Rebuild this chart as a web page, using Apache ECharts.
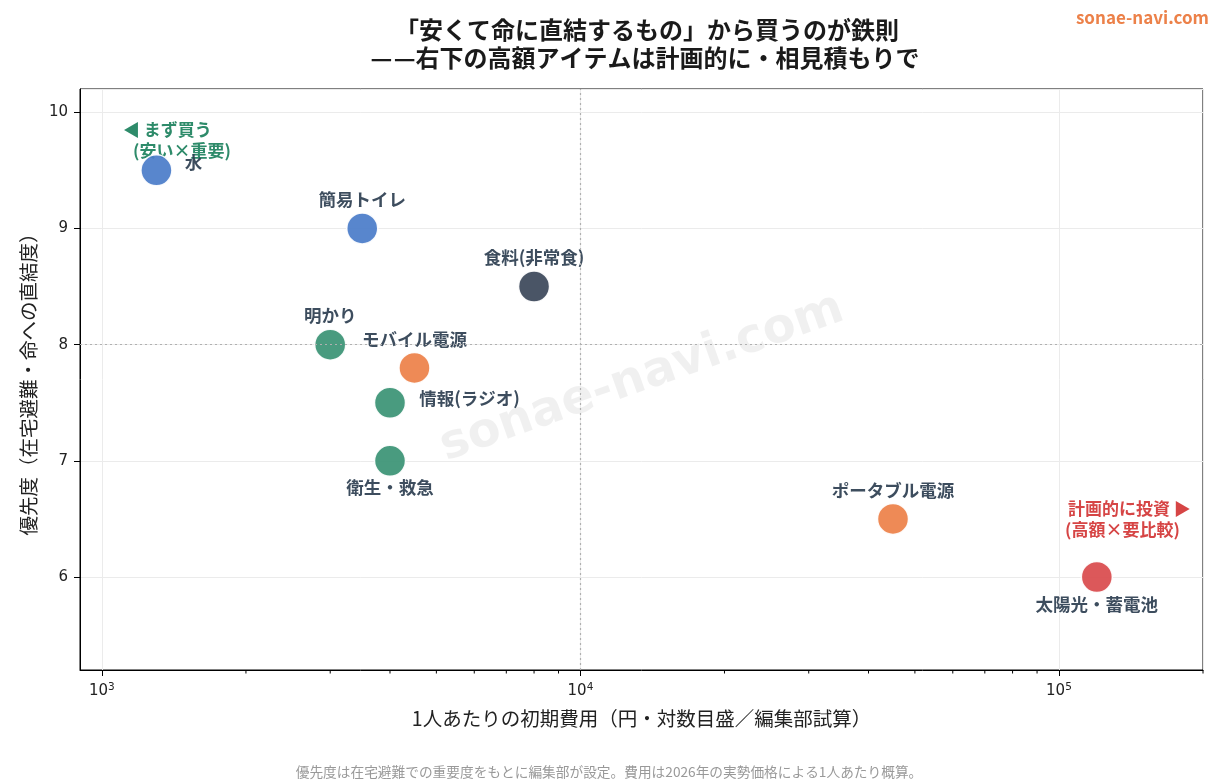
<!DOCTYPE html>
<html>
<head>
<meta charset="utf-8">
<script src="https://cdn.jsdelivr.net/npm/echarts@6/dist/echarts.min.js"></script>
<style>
  html, body { margin: 0; padding: 0; background: #fff; }
  #main { width: 1222px; height: 780px; }
</style>
</head>
<body>
<div id="main"></div>
<script>
  // data
  var items = ['水', '簡易トイレ', '食料(非常食)', '明かり', 'モバイル電源', '情報(ラジオ)', '衛生・救急', 'ポータブル電源', '太陽光・蓄電池'];
  var costs = [1300, 3500, 8000, 3000, 4500, 4000, 4000, 45000, 120000];
  var priority = [9.5, 9.0, 8.5, 8.0, 7.8, 7.5, 7.0, 6.5, 6.0];
  var groups = ['水', '水', '食', '備', '電', '備', '備', '電', '大'];
  var refCost = 10000;
  var refPriority = 8;

  var FONT = '"DejaVu Sans", "Noto Sans CJK JP", sans-serif';
  var JP = '"Noto Sans CJK JP", sans-serif';
  var groupColor = {
    '水': '#4a7cc9',
    '食': '#3b4759',
    '備': '#3a9274',
    '電': '#ed8048',
    '大': '#d94a4c'
  };
  // label placement per item
  var labelStyle = {
    '水': { position: 'right', distance: 12, offset: [0, -8] },
    '簡易トイレ': { position: 'top', distance: 4 },
    '食料(非常食)': { position: 'top', distance: 4 },
    '明かり': { position: 'top', distance: 4 },
    'モバイル電源': { position: 'top', distance: 4 },
    '情報(ラジオ)': { position: 'right', distance: 13, offset: [0, -4] },
    '衛生・救急': { position: 'bottom', distance: 2 },
    'ポータブル電源': { position: 'top', distance: 4 },
    '太陽光・蓄電池': { position: 'bottom', distance: 2 }
  };

  var points = items.map(function (n, i) {
    var ls = labelStyle[n];
    return {
      name: n,
      value: [costs[i], priority[i]],
      itemStyle: { color: groupColor[groups[i]] },
      label: { position: ls.position, distance: ls.distance, offset: ls.offset || [0, 0] }
    };
  });

  var chart = echarts.init(document.getElementById('main'));
  var option = {
    backgroundColor: '#fff',
    textStyle: { fontFamily: FONT },
    grid: {
      left: 80, right: 19, top: 89, bottom: 110,
      show: true, borderColor: '#000', borderWidth: 1
    },
    xAxis: {
      type: 'log',
      logBase: 10,
      min: 900,
      max: 200000,
      name: '1人あたりの初期費用（円・対数目盛／編集部試算）',
      nameLocation: 'middle',
      nameGap: 39,
      nameTextStyle: { fontFamily: JP, fontSize: 19.5, color: '#222' },
      axisLine: { lineStyle: { color: '#000', width: 1 } },
      axisTick: { show: true, length: 6, lineStyle: { color: '#000' } },
      axisLabel: {
        color: '#222',
        margin: 12,
        showMinLabel: false,
        showMaxLabel: false,
        formatter: function (v) {
          var e = Math.round(Math.log10(v));
          if (Math.abs(Math.pow(10, e) - v) > 1e-6 * v) return '';
          return '{b|10}{s|' + e + '}';
        },
        rich: {
          b: { fontSize: 15, fontFamily: FONT, color: '#222' },
          s: { fontSize: 10.5, fontFamily: FONT, color: '#222', verticalAlign: 'top', padding: [0, 0, 8, 0] }
        }
      },
      splitLine: { show: true, lineStyle: { color: '#ebebeb', width: 1 } }
    },
    yAxis: {
      type: 'value',
      min: 5.2,
      max: 10.2,
      splitNumber: 5,
      name: '優先度（在宅避難・命への直結度）',
      nameLocation: 'middle',
      nameGap: 37,
      nameTextStyle: { fontFamily: JP, fontSize: 19.5, color: '#222' },
      axisLine: { show: true, lineStyle: { color: '#000', width: 1 } },
      axisTick: { show: true, length: 6, lineStyle: { color: '#000' } },
      axisLabel: {
        color: '#222', fontSize: 15, margin: 12,
        showMinLabel: false, showMaxLabel: false,
        formatter: function (v) { return Math.abs(v - Math.round(v)) < 1e-6 ? String(Math.round(v)) : ''; }
      },
      splitLine: { show: true, lineStyle: { color: '#ebebeb', width: 1 } }
    },
    series: [{
      type: 'scatter',
      symbolSize: 31,
      data: points,
      itemStyle: { opacity: 0.92, borderColor: '#fff', borderWidth: 1.5 },
      label: {
        show: true,
        formatter: '{b}',
        fontFamily: JP,
        fontSize: 17.5,
        fontWeight: 'bold',
        color: '#2c3e50'
      },
      markLine: {
        silent: true,
        symbol: 'none',
        label: { show: false },
        lineStyle: { color: '#b0b0b0', type: [2, 3], width: 1.2 },
        data: [{ xAxis: refCost }, { yAxis: refPriority }]
      },
      z: 3
    }]
  };
  chart.setOption(option);

  // minor ticks on log axis + texts
  var g = [];
  var axisY = chart.convertToPixel({ gridIndex: 0 }, [1000, 5.2])[1];
  [1000, 10000, 100000].forEach(function (d) {
    for (var k = 2; k <= 9; k++) {
      var v = d * k;
      if (v < 900 || v > 200000) continue;
      var px = chart.convertToPixel({ gridIndex: 0 }, [v, 6])[0];
      g.push({ type: 'line', shape: { x1: px, y1: axisY, x2: px, y2: axisY + 3.5 }, style: { stroke: '#000', lineWidth: 1 }, silent: true });
    }
  });

  g.push(
    { type: 'text', x: 647, y: 30, style: { text: '「安くて命に直結するもの」から買うのが鉄則', font: 'bold 24px ' + JP, fill: '#1a1a1a', align: 'center', verticalAlign: 'middle' } },
    { type: 'text', x: 645, y: 58, style: { text: '—\u200a—右下の高額アイテムは計画的に・相見積もりで', font: 'bold 24px ' + JP, fill: '#1a1a1a', align: 'center', verticalAlign: 'middle' } },
    { type: 'text', left: 123, top: 121, style: { text: '◀ まず買う', font: 'bold 17px ' + JP, fill: '#2e8b6a' } },
    { type: 'text', left: 133, top: 142, style: { text: '(安い×重要)', font: 'bold 17px ' + JP, fill: '#2e8b6a' } },
    { type: 'text', left: 1068, top: 500, style: { text: '計画的に投資 ▶', font: 'bold 17px ' + JP, fill: '#d64545' } },
    { type: 'text', left: 1065, top: 521, style: { text: '(高額×要比較)', font: 'bold 17px ' + JP, fill: '#d64545' } },
    { type: 'text', right: 13, top: 9, style: { text: 'sonae-navi.com', font: 'bold 17px ' + JP, fill: '#ec8149' } },
    {
      type: 'text', x: 642, y: 378, rotation: 0.34, z: -1,
      style: { text: 'sonae-navi.com', font: 'bold 48px ' + FONT, fill: 'rgba(0,0,0,0.06)', align: 'center', verticalAlign: 'middle' },
      silent: true
    },
    { type: 'text', x: 609, y: 772, style: { text: '優先度は在宅避難での重要度をもとに編集部が設定。費用は2026年の実勢価格による1人あたり概算。', font: '13.7px ' + JP, fill: '#999', align: 'center', verticalAlign: 'middle' } }
  );
  chart.setOption({ graphic: g });
</script>
</body>
</html>
